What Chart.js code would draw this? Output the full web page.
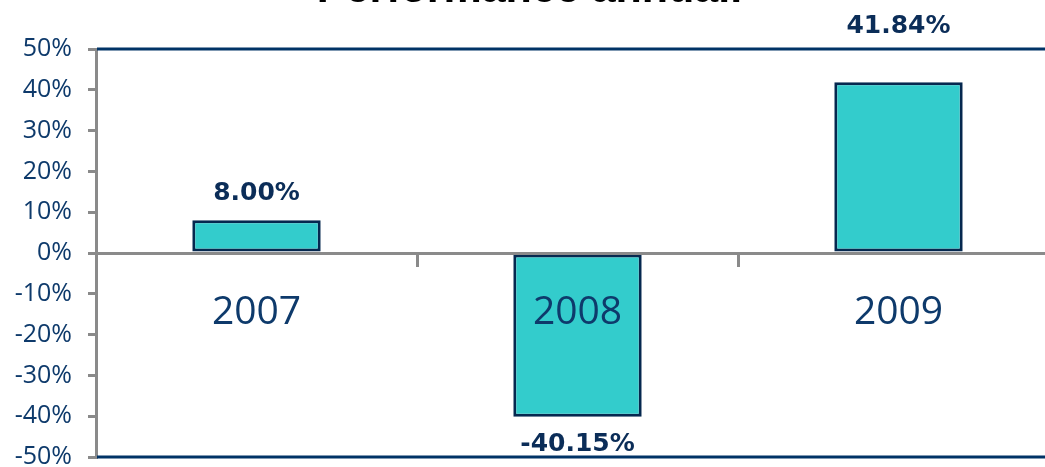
<!DOCTYPE html>
<html>
<head>
<meta charset="utf-8">
<script src="https://cdn.jsdelivr.net/npm/chart.js@4.4.0/dist/chart.umd.min.js"></script>
<style>
  html, body { margin: 0; padding: 0; overflow: hidden; background: #ffffff; width: 1045px; height: 467px; }
  #wrap { position: absolute; left: 0; top: -40px; width: 1062px; height: 528px; }
</style>
</head>
<body>
<div id="wrap"><canvas id="c"></canvas></div>
<script>
const titleText = 'Performance annuali';
const categories = ['2007', '2008', '2009'];
const performance = [8.00, -40.15, 41.84];
const yTicks = { min: -50, max: 50, step: 10 };

const NAVY = '#0E3A6B';
const LABEL_NAVY = '#0B2D58';
const GRAY = '#8A8A8A';

const frame = {
  id: 'frame',
  beforeDatasetsDraw(chart) {
    const { ctx, chartArea: a } = chart;
    ctx.save();
    ctx.strokeStyle = '#003366';
    ctx.lineWidth = 3;
    ctx.beginPath();
    ctx.moveTo(a.left + 1, a.top);
    ctx.lineTo(a.right, a.top);
    ctx.moveTo(a.left + 1, a.bottom);
    ctx.lineTo(a.right, a.bottom);
    ctx.moveTo(a.right, a.top);
    ctx.lineTo(a.right, a.bottom);
    ctx.stroke();
    ctx.restore();
  }
};

const valueLabels = {
  id: 'valueLabels',
  afterDraw(chart) {
    const { ctx, chartArea: a } = chart;
    const meta = chart.getDatasetMeta(0);
    ctx.save();
    ctx.font = 'bold 25px "DejaVu Sans"';
    ctx.fillStyle = LABEL_NAVY;
    ctx.textAlign = 'center';
    ctx.textBaseline = 'alphabetic';
    const capH = 18;
    meta.data.forEach((bar, i) => {
      const v = performance[i];
      const text = v.toFixed(2) + '%';
      let y;
      if (v >= 0) {
        y = bar.y - 20;
        if (y - capH < a.top + 4) y = a.top - 16;
      } else {
        y = bar.y + 16 + capH;
      }
      ctx.fillText(text, bar.x, y);
    });
    ctx.restore();
  }
};

new Chart(document.getElementById('c'), {
  type: 'bar',
  data: {
    labels: categories,
    datasets: [{
      data: performance,
      backgroundColor: '#33CCCC',
      borderColor: '#05284F',
      borderWidth: 3,
      borderSkipped: false,
      categoryPercentage: 1.0,
      barPercentage: 0.4
    }]
  },
  options: {
    responsive: true,
    maintainAspectRatio: false,
    animation: false,
    layout: { padding: { left: 0, right: 3, top: 0, bottom: 14 } },
    plugins: {
      legend: { display: false },
      tooltip: { enabled: false },
      title: {
        display: true,
        text: titleText,
        color: '#000000',
        font: { family: '"Liberation Sans"', size: 43, weight: 'bold' },
        padding: { top: 4, bottom: 33.4 }
      }
    },
    scales: {
      x: {
        position: { y: 0 },
        offset: true,
        grid: {
          display: true,
          offset: true,
          drawOnChartArea: false,
          drawTicks: true,
          tickLength: 12,
          color: GRAY,
          lineWidth: 3
        },
        border: { display: true, color: GRAY, width: 3, z: 1 },
        ticks: {
          color: NAVY,
          font: { family: '"Open Sans"', size: 39 },
          padding: 24,
          maxRotation: 0,
          autoSkip: false,
          z: 2
        }
      },
      y: {
        min: yTicks.min,
        max: yTicks.max,
        afterFit(scale) { scale.width = 96; },
        grid: {
          drawOnChartArea: false,
          drawTicks: true,
          tickLength: 8,
          color: GRAY,
          lineWidth: 3
        },
        border: { display: true, color: GRAY, width: 3 },
        ticks: {
          stepSize: yTicks.step,
          color: NAVY,
          font: { family: '"Open Sans"', size: 25 },
          padding: 16,
          callback: (v) => v + '%'
        }
      }
    }
  },
  plugins: [frame, valueLabels]
});
</script>
</body>
</html>
